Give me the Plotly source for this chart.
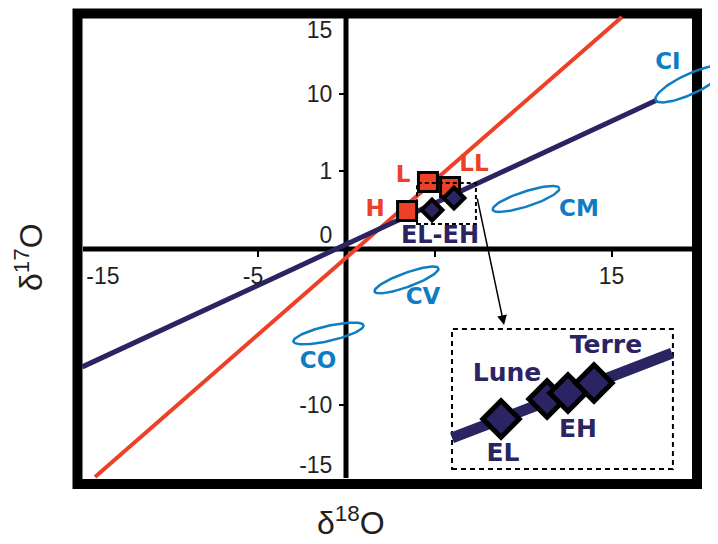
import numpy as np
import plotly.graph_objects as go

# ---------------- data ----------------
# terrestrial fractionation line (red) and carbonaceous mixing line (navy)
tfl_x = [-14.18, 15.59]
tfl_y = [-14.66, 14.92]
ccam_x = [-14.9, 17.57]
ccam_y = [-7.58, 9.58]

# ordinary chondrites (red squares)
oc_names = ["H", "L", "LL"]
oc_x = [3.45, 4.63, 5.88]
oc_y = [2.44, 4.31, 3.99]
oc_lab_x = [1.64, 3.22, 7.23]
oc_lab_y = [2.51, 4.69, 5.40]

# enstatite chondrites (small navy diamonds)
ec_x = [4.86, 6.10]
ec_y = [2.51, 3.28]
ec_label = ["EL-EH"]
ec_lab_x = [5.31]
ec_lab_y = [0.77]

# carbonaceous chondrite groups (blue ellipses)
cc_names = ["CI", "CM", "CV", "CO"]
cc_cx = [19.44, 10.17, 3.42, -0.99]
cc_cy = [10.61, 3.22, -1.99, -5.43]
cc_lab_x = [18.19, 13.16, 4.35, -1.58]
cc_lab_y = [11.96, 2.51, -3.15, -7.27]
cc_semi_major_px = [38, 35, 34, 36]
cc_semi_minor_px = [10, 7.5, 7, 7.5]
cc_tilt_deg = [25, 18, 20, 13]

# zoom box (small dashed box) and inset
zoom_box_x = [4.01, 7.34]
zoom_box_y = [1.61, 4.24]
arrow_from = [7.40, 3.34]
arrow_to = [8.93, -4.89]
inset_box_x = [5.99, 18.47]
inset_box_y = [-14.15, -5.14]
inset_line_x = [5.99, 18.42]
inset_line_y = [-12.15, -6.69]
inset_names = ["EL", "Lune", "EH", "Terre"]
inset_x = [8.76, 11.36, 12.54, 14.01]
inset_y = [-10.93, -9.65, -9.26, -8.62]
inset_lab_x = [8.87, 9.10, 13.11, 14.69]
inset_lab_y = [-13.25, -8.10, -11.70, -6.30]

# tick labels (schematic axes)
x_label_vals = [-13.73, -5.25, 15]
x_label_text = ["-15", "-5", "15"]
x_tick_marks = [-5, 5, 15]
y_label_vals = [14.08, 10, 5, 0.90, -10, -13.89]
y_label_text = ["15", "10", "1", "0", "-10", "-15"]
y_tick_marks = [10, 5, -10]

# ---------------- styling / layout ----------------
W, H = 718, 544
OFF = 8       # page body margin: the figure is drawn 8 px in from the corner
PX_X = 17.7   # pixels per x unit
PX_Y = 15.55  # pixels per y unit
X0_PX, Y0_PX = 346 - OFF, 249 - OFF   # origin, in figure pixels
x_range = [-X0_PX / PX_X, (W - X0_PX) / PX_X]
y_range = [-(H - Y0_PX) / PX_Y, Y0_PX / PX_Y]


def px(v):
    return (v - OFF) / W


def py(v):
    return 1 - (v - OFF) / H


RED = "#EE4027"
NAVY = "#2B2463"
BLUE = "#0F7DC2"
INK = "#231F20"
BOLD = dict(family="DejaVu Sans", weight="bold")

fig = go.Figure()

# lines
fig.add_trace(go.Scatter(x=tfl_x, y=tfl_y, mode="lines",
                         line=dict(color=RED, width=4), hoverinfo="skip"))
fig.add_trace(go.Scatter(x=ccam_x, y=ccam_y, mode="lines",
                         line=dict(color=NAVY, width=5), hoverinfo="skip"))

# ellipses
for cx, cy, a, b, th in zip(cc_cx, cc_cy, cc_semi_major_px, cc_semi_minor_px, cc_tilt_deg):
    t = np.linspace(0, 2 * np.pi, 121)
    r = np.deg2rad(th)
    dx = a * np.cos(t) * np.cos(r) - b * np.sin(t) * np.sin(r)
    dy = a * np.cos(t) * np.sin(r) + b * np.sin(t) * np.cos(r)
    fig.add_trace(go.Scatter(x=cx + dx / PX_X, y=cy + dy / PX_Y, mode="lines",
                             line=dict(color=BLUE, width=2.5), hoverinfo="skip"))

# squares
fig.add_trace(go.Scatter(x=oc_x, y=oc_y, mode="markers",
                         marker=dict(symbol="square", size=19, color=RED,
                                     line=dict(color="black", width=3)),
                         hoverinfo="skip"))
# small diamonds
fig.add_trace(go.Scatter(x=ec_x, y=ec_y, mode="markers",
                         marker=dict(symbol="diamond", size=16, color=NAVY,
                                     line=dict(color="black", width=4)),
                         hoverinfo="skip"))

# inset
fig.add_trace(go.Scatter(x=inset_line_x, y=inset_line_y, mode="lines",
                         line=dict(color=NAVY, width=11), hoverinfo="skip"))
fig.add_trace(go.Scatter(x=inset_x, y=inset_y, mode="markers",
                         marker=dict(symbol="diamond", size=28, color=NAVY,
                                     line=dict(color="black", width=5)),
                         hoverinfo="skip"))

# text labels
fig.add_trace(go.Scatter(x=oc_lab_x, y=oc_lab_y, text=oc_names, mode="text",
                         textposition="middle center",
                         textfont=dict(color=RED, size=23, **BOLD), hoverinfo="skip"))
fig.add_trace(go.Scatter(x=ec_lab_x, y=ec_lab_y, text=ec_label, mode="text",
                         textposition="middle center",
                         textfont=dict(color=NAVY, size=24, **BOLD), hoverinfo="skip"))
fig.add_trace(go.Scatter(x=cc_lab_x, y=cc_lab_y, text=cc_names, mode="text",
                         textposition="middle center",
                         textfont=dict(color=BLUE, size=23, **BOLD), hoverinfo="skip"))
fig.add_trace(go.Scatter(x=inset_lab_x, y=inset_lab_y, text=inset_names, mode="text",
                         textposition="middle center",
                         textfont=dict(color=NAVY, size=25, **BOLD), hoverinfo="skip"))

shapes = [
    # thick frame
    dict(type="rect", xref="paper", yref="paper",
         x0=px(77.5), x1=px(697), y0=py(484), y1=py(13.5),
         line=dict(color="black", width=10), layer="below"),
    # axis lines through origin
    dict(type="line", xref="paper", yref="y", x0=px(83), x1=px(692), y0=0, y1=0,
         line=dict(color="black", width=5), layer="below"),
    dict(type="line", xref="x", yref="paper", x0=0, x1=0, y0=py(478), y1=py(18),
         line=dict(color="black", width=5), layer="below"),
    # dashed boxes
    dict(type="rect", xref="x", yref="y", x0=zoom_box_x[0], x1=zoom_box_x[1],
         y0=zoom_box_y[0], y1=zoom_box_y[1],
         line=dict(color="black", width=2, dash="4px,3px"), layer="above"),
    dict(type="rect", xref="x", yref="y", x0=inset_box_x[0], x1=inset_box_x[1],
         y0=inset_box_y[0], y1=inset_box_y[1],
         line=dict(color="black", width=2, dash="5px,4px"), layer="below"),
]

annotations = [
    dict(x=arrow_to[0], y=arrow_to[1], ax=arrow_from[0], ay=arrow_from[1],
         xref="x", yref="y", axref="x", ayref="y", text="", showarrow=True,
         arrowhead=2, arrowsize=1.3, arrowwidth=1.5, arrowcolor="black"),
    dict(x=px(351), y=py(521), xref="paper", yref="paper", showarrow=False,
         xanchor="center", yanchor="middle",
         text="δ<sup>18</sup>O", font=dict(family="Liberation Sans", size=32, color=INK)),
    dict(x=px(29), y=py(257), xref="paper", yref="paper", showarrow=False,
         xanchor="center", yanchor="middle",
         text="δ<sup>17</sup>O", textangle=-90,
         font=dict(family="Liberation Sans", size=32, color=INK)),
]

tickfont = dict(family="Liberation Sans", size=23, color=INK)
fig.update_layout(
    width=W, height=H, margin=dict(l=0, r=0, t=0, b=0),
    paper_bgcolor="white", plot_bgcolor="white", showlegend=False,
    shapes=shapes, annotations=annotations,
    xaxis=dict(range=x_range, domain=[0, 1], anchor="free",
               position=1 - Y0_PX / H, showline=False, showgrid=False, zeroline=False,
               tickmode="array", tickvals=x_label_vals, ticktext=x_label_text,
               ticks="outside", ticklen=6, tickcolor="rgba(0,0,0,0)", tickfont=tickfont,
               minor=dict(tickmode="array", tickvals=x_tick_marks, ticks="outside",
                          ticklen=7, tickwidth=2, tickcolor="black", showgrid=False),
               automargin=False, fixedrange=True),
    yaxis=dict(range=y_range, domain=[0, 1], anchor="free",
               position=X0_PX / W, showline=False, showgrid=False, zeroline=False,
               tickmode="array", tickvals=y_label_vals, ticktext=y_label_text,
               ticks="outside", ticklen=9, tickcolor="rgba(0,0,0,0)", tickfont=tickfont,
               minor=dict(tickmode="array", tickvals=y_tick_marks, ticks="outside",
                          ticklen=7, tickwidth=2, tickcolor="black", showgrid=False),
               automargin=False, fixedrange=True),
)

fig.write_html("out.html")
